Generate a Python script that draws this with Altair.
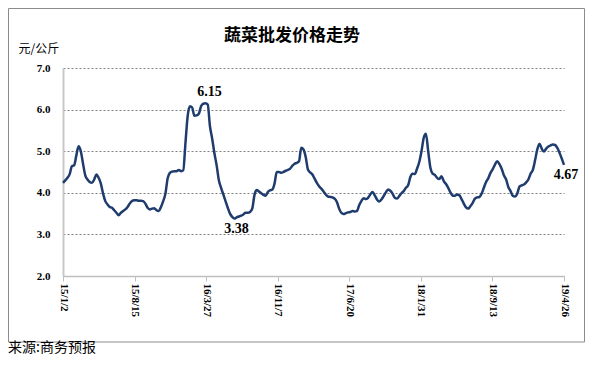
import altair as alt
import pandas as pd

chart_title = ["蔬菜批发价格走势"]
unit_label = "元/公斤"
source_note = ["来源:商务预报"]

start_date = "2015-01-02"
prices = [
    4.24, 4.30, 4.36, 4.45, 4.64, 4.66, 4.90, 5.12, 5.00, 4.70,
    4.42, 4.32, 4.26, 4.24, 4.32, 4.44, 4.36, 4.22, 3.98, 3.80,
    3.72, 3.66, 3.64, 3.58, 3.52, 3.46, 3.52, 3.56, 3.60, 3.66,
    3.74, 3.80, 3.82, 3.82, 3.81, 3.81, 3.80, 3.74, 3.64, 3.60,
    3.62, 3.63, 3.58, 3.56, 3.66, 3.80, 3.98, 4.35, 4.48, 4.51,
    4.52, 4.52, 4.55, 4.52, 4.54, 5.20, 5.85, 6.08, 6.05, 5.85,
    5.86, 5.90, 6.08, 6.14, 6.15, 6.12, 5.60, 5.30, 4.95, 4.66,
    4.30, 4.12, 3.96, 3.80, 3.64, 3.50, 3.42, 3.38, 3.41, 3.43,
    3.45, 3.48, 3.52, 3.52, 3.54, 3.62, 3.95, 4.07, 4.03, 3.99,
    3.95, 3.93, 4.02, 4.06, 4.08, 4.22, 4.50, 4.50, 4.48, 4.50,
    4.53, 4.55, 4.58, 4.65, 4.70, 4.72, 4.76, 5.08, 5.04, 4.86,
    4.56, 4.49, 4.44, 4.34, 4.24, 4.16, 4.10, 4.03, 3.96, 3.91,
    3.90, 3.89, 3.86, 3.78, 3.62, 3.52, 3.49, 3.51, 3.53, 3.54,
    3.56, 3.55, 3.56, 3.70, 3.80, 3.87, 3.85, 3.88, 3.96, 4.02,
    3.94, 3.84, 3.79, 3.84, 3.92, 4.01, 4.08, 4.05, 3.98, 3.88,
    3.86, 3.92, 3.99, 4.04, 4.12, 4.18, 4.38, 4.46, 4.45, 4.58,
    4.74, 5.00, 5.32, 5.42, 5.00, 4.60, 4.46, 4.43, 4.36, 4.33,
    4.40, 4.28, 4.21, 4.12, 4.01, 3.93, 3.93, 3.96, 3.94, 3.85,
    3.74, 3.65, 3.62, 3.68, 3.76, 3.86, 3.89, 3.90, 3.98, 4.12,
    4.26, 4.35, 4.48, 4.57, 4.68, 4.76, 4.69, 4.58, 4.42, 4.32,
    4.14, 4.04, 3.93, 3.91, 3.98, 4.15, 4.18, 4.20, 4.25, 4.32,
    4.46, 4.55, 4.78, 5.04, 5.18, 5.06, 4.99, 5.06, 5.11, 5.14,
    5.16, 5.15, 5.08, 4.96, 4.82, 4.67,
]
tick_dates = ["2015-01-02", "2015-08-15", "2016-03-27", "2016-11-07",
              "2017-06-20", "2018-01-31", "2018-09-13", "2019-04-26"]
y_ticks = [2.0, 3.0, 4.0, 5.0, 6.0, 7.0]

high_dates = ["2016-03-25"]
high_values = [6.15]
low_dates = ["2016-06-24", "2019-04-26"]
low_values = [3.38, 4.67]


def dt(s):
    y, m, d = (int(p) for p in s.split("-"))
    return alt.DateTime(year=y, month=m, date=d, utc=True)


dates = pd.date_range(start_date, periods=len(prices), freq="7D").strftime("%Y-%m-%d").tolist()
df = pd.DataFrame({"date": dates, "price": prices})
hi_df = pd.DataFrame({"date": high_dates, "price": high_values,
                      "label": [f"{v:.2f}" for v in high_values]})
lo_df = pd.DataFrame({"date": low_dates, "price": low_values,
                      "label": [f"{v:.2f}" for v in low_values]})

NUM_FONT = "Liberation Serif"
CJK_FONT = "Noto Sans CJK SC"

x_enc = alt.X(
    "date:T",
    scale=alt.Scale(type="utc", domain=[dt(tick_dates[0]), dt(tick_dates[-1])]),
    axis=alt.Axis(
        values=[dt(s) for s in tick_dates],
        labelExpr="utcFormat(datum.value, '%y/%-m/%-d')",
        labelAngle=90,
        labelAlign="left",
        labelBaseline="middle",
        labelFont=NUM_FONT,
        labelFontWeight="bold",
        labelFontSize=11,
        labelColor="#000000",
        labelPadding=2,
        labelOverlap=False,
        labelFlush=False,
        domainColor="#bfbfbf",
        domainWidth=1.5,
        tickColor="#bfbfbf",
        tickSize=5,
        tickWidth=1,
        grid=False,
        title=None,
    ),
)
y_enc = alt.Y(
    "price:Q",
    scale=alt.Scale(domain=[2, 7], nice=False, zero=False),
    axis=alt.Axis(
        values=y_ticks,
        format=".1f",
        labelFont=NUM_FONT,
        labelFontWeight="bold",
        labelFontSize=11,
        labelColor="#000000",
        labelPadding=13,
        ticks=False,
        tickSize=0,
        domainColor="#c8c8c8",
        domainWidth=2,
        grid=True,
        gridColor="#808080",
        gridDash=[2, 2],
        gridWidth=1,
        title=unit_label,
        titleAngle=0,
        titleX=-45,
        titleY=-20,
        titleAlign="left",
        titleBaseline="middle",
        titleFont=CJK_FONT,
        titleFontSize=12,
        titleFontWeight="normal",
        titleColor="#000000",
    ),
)

border = alt.Chart(pd.DataFrame({"k": [0]})).mark_rect(
    fill="white", fillOpacity=0, stroke="#8c8c8c", strokeWidth=1
).encode(
    x=alt.value(-54.5), x2=alt.value(521.5), y=alt.value(-59.5), y2=alt.value(274)
)

line = alt.Chart(df).mark_line(
    color="#1f3c6e", strokeWidth=2.5, interpolate="monotone"
).encode(x=x_enc, y=y_enc)

ann_hi = alt.Chart(hi_df).mark_text(
    font=NUM_FONT, fontWeight="bold", fontSize=14, color="#000000",
    dx=4, dy=-11, baseline="middle", align="center"
).encode(x=x_enc, y=y_enc, text="label:N")

ann_lo = alt.Chart(lo_df).mark_text(
    font=NUM_FONT, fontWeight="bold", fontSize=14, color="#000000",
    dx=2, dy=10, baseline="middle", align="center"
).encode(x=x_enc, y=y_enc, text="label:N")

title_txt = alt.Chart(pd.DataFrame({"t": chart_title})).mark_text(
    font=CJK_FONT, fontWeight="bold", fontSize=17, color="#000000",
    align="center", baseline="middle"
).encode(x=alt.value(229), y=alt.value(-32), text="t:N")

source_txt = alt.Chart(pd.DataFrame({"t": source_note})).mark_text(
    font=CJK_FONT, fontSize=14, color="#000000",
    align="left", baseline="middle"
).encode(x=alt.value(-55), y=alt.value(280), text="t:N")

chart = alt.layer(border, line, ann_hi, ann_lo, title_txt, source_txt).properties(
    width=501,
    height=208,
    padding={"left": 55, "top": 60, "right": 21, "bottom": 84},
    autosize=alt.AutoSizeParams(type="none"),
    background="white",
).configure_view(stroke=None)

chart.save("out.html", embed_options={"renderer": "svg", "actions": False})
